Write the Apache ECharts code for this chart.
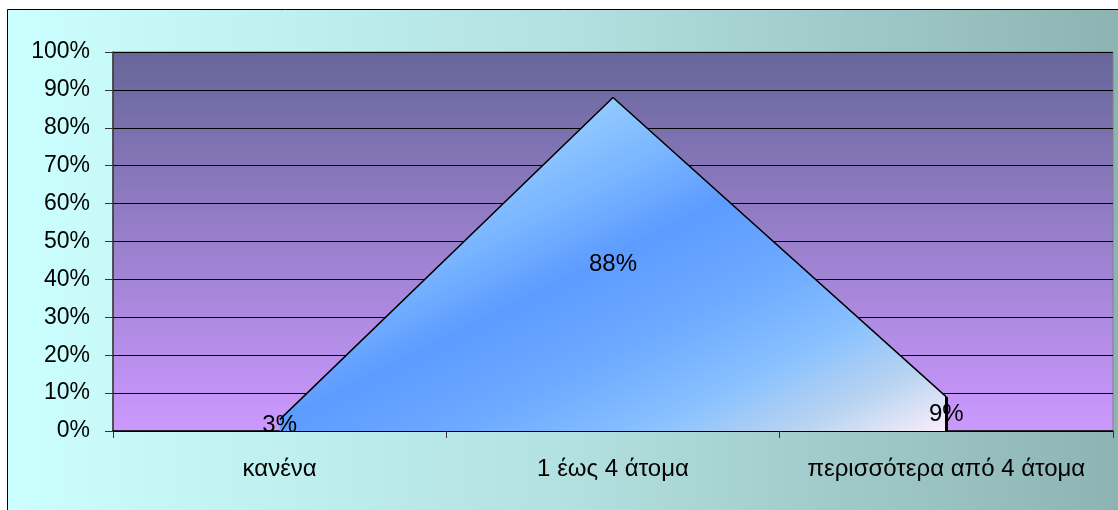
<!DOCTYPE html>
<html>
<head>
<meta charset="utf-8">
<script src="https://cdn.jsdelivr.net/npm/echarts@6/dist/echarts.min.js"></script>
<style>
  html, body { margin: 0; padding: 0; background: #ffffff; }
  #chart { width: 1118px; height: 510px; }
</style>
</head>
<body>
<div id="chart"></div>
<script>
// Household members: share of respondents per group (percent)
const categories = ['κανένα', '1 έως 4 άτομα', 'περισσότερα από 4 άτομα'];
const shares = [3, 88, 9];
const yTicks = { min: 0, max: 100, interval: 10 };

const FONT = "'Liberation Sans', Arial, sans-serif";
const chart = echarts.init(document.getElementById('chart'), null, { renderer: 'canvas' });

chart.setOption({
  animation: false,
  backgroundColor: 'transparent',
  textStyle: { fontFamily: FONT },
  graphic: [{
    type: 'rect',
    z: -10,
    silent: true,
    shape: { x: 7.5, y: 9.5, width: 1120, height: 510 },
    style: {
      fill: new echarts.graphic.LinearGradient(0, 0, 1, 0, [
        { offset: 0, color: '#ccffff' },
        { offset: 0.5, color: '#b3e0e0' },
        { offset: 1, color: '#8cb3b2' }
      ]),
      stroke: '#000000',
      lineWidth: 1
    }
  }],
  grid: {
    left: 113, right: 5, top: 52, bottom: 79,
    show: true,
    borderColor: '#808080',
    borderWidth: 1,
    backgroundColor: new echarts.graphic.LinearGradient(0, 0, 0, 1, [
      { offset: 0, color: '#666699' },
      { offset: 1, color: '#cc99ff' }
    ])
  },
  xAxis: {
    type: 'category',
    data: categories,
    boundaryGap: true,
    axisLine: { lineStyle: { color: '#000000', width: 1.5 } },
    axisTick: { show: true, length: 7, lineStyle: { color: '#333333' } },
    axisLabel: { color: '#000000', fontSize: 24, fontFamily: FONT, margin: 26, interval: 0, hideOverlap: false }
  },
  yAxis: {
    type: 'value',
    min: yTicks.min,
    max: yTicks.max,
    interval: yTicks.interval,
    axisLine: { show: true, lineStyle: { color: '#333333', width: 1.5 } },
    axisTick: { show: true, length: 8, lineStyle: { color: '#333333' } },
    axisLabel: { color: '#000000', fontSize: 23, fontFamily: FONT, margin: 23, formatter: '{value}%' },
    splitLine: { show: true, lineStyle: { color: '#000000', width: 1 } }
  },
  series: [
    {
      type: 'line',
      data: shares,
      symbol: 'none',
      z: 3,
      lineStyle: { color: '#000000', width: 1.5 },
      areaStyle: {
        opacity: 1,
        // diagonal sheen: light at the apex, deep blue band, fading to near-white at lower right
        color: new echarts.graphic.LinearGradient(0.5, 0, 1.0, 2.0, [
          { offset: 0, color: '#92caff' },
          { offset: 0.10, color: '#78b4ff' },
          { offset: 0.19, color: '#5d9bff' },
          { offset: 0.31, color: '#6eaaff' },
          { offset: 0.415, color: '#88c0ff' },
          { offset: 0.51, color: '#b8d4f0' },
          { offset: 0.60, color: '#fbeefa' },
          { offset: 1, color: '#fbeefa' }
        ])
      },
      markLine: {
        silent: true,
        symbol: 'none',
        label: { show: false },
        lineStyle: { color: '#000000', width: 3, type: 'solid' },
        data: [[
          { coord: [categories[2], 0] },
          { coord: [categories[2], shares[2]] }
        ]]
      }
    },
    {
      // transparent carrier for the value labels, centred halfway up each value
      type: 'bar',
      data: shares,
      barWidth: 2,
      z: 5,
      itemStyle: { color: 'rgba(0,0,0,0)' },
      label: {
        show: true,
        position: 'inside',
        color: '#000000',
        fontSize: 24,
        fontFamily: FONT,
        formatter: '{c}%'
      }
    }
  ]
});
</script>
</body>
</html>
